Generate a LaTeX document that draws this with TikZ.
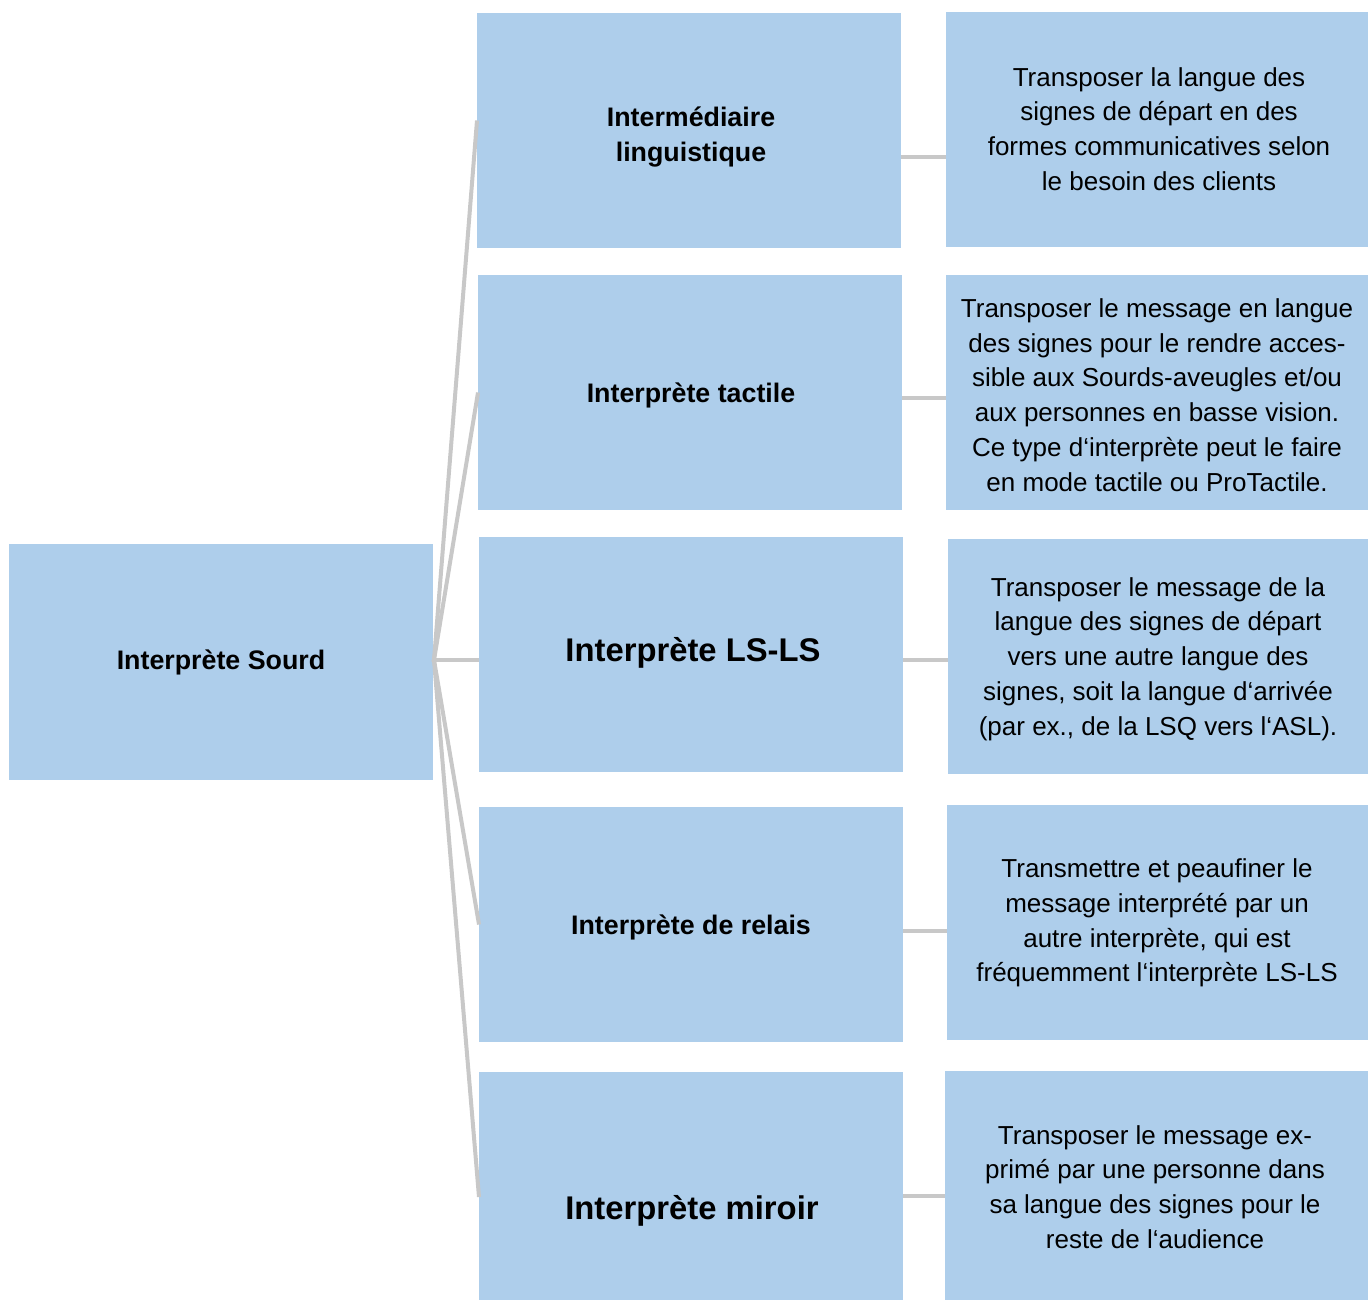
\documentclass[tikz,border=0pt]{standalone}
\usepackage{fontspec}
\setmainfont{Liberation Sans}
\definecolor{boxblue}{RGB}{174,206,235}
\definecolor{linkgray}{RGB}{200,200,200}
\tikzset{
  box/.style={fill=boxblue, draw=none, inner sep=0pt, outer sep=0pt, anchor=north west,
              minimum width=212pt, minimum height=117.5pt},
  rootbox/.style={box, minimum width=212pt, minimum height=118pt},
  title/.style={font=\fontsize{13.4pt}{17.5pt}\selectfont\bfseries, align=center, inner sep=0pt},
  bigtitle/.style={font=\fontsize{16.4pt}{20pt}\selectfont\bfseries, align=center, inner sep=0pt},
  desc/.style={font=\fontsize{13pt}{17.4pt}\selectfont, align=center, inner sep=0pt},
  link/.style={draw=linkgray, line width=2pt}
}
\begin{document}
\begin{tikzpicture}[x=0.5pt,y=-0.5pt]
\useasboundingbox (0,0) rectangle (1368,1300);
% root
\node[rootbox] (root) at (9,544) {};
% middle column
\node[box] (m1) at (477,13) {};
\node[box] (m2) at (478,275) {};
\node[box] (m3) at (479,537) {};
\node[box] (m4) at (479,807) {};
\node[box, minimum height=114pt] (m5) at (479,1072) {};
% right column
\node[box, minimum width=211pt] (r1) at (946,12) {};
\node[box, minimum width=211pt] (r2) at (946,275) {};
\node[box, minimum width=210pt] (r3) at (948,539) {};
\node[box, minimum width=210.5pt] (r4) at (947,805) {};
\node[box, minimum width=211.5pt, minimum height=114.5pt] (r5) at (945,1071) {};
% fan connectors
\coordinate (hub) at (434,660);
\draw[link] (hub) -- ([yshift=5pt]m1.west);
\draw[link] (hub) -- (m2.west);
\draw[link] (hub) -- ([yshift=-2.75pt]m3.west);
\draw[link] (hub) -- (m4.west);
\draw[link] (hub) -- ([yshift=-5.5pt]m5.west);
\draw[link] (root.east) -- (hub);
% horizontal connectors
\draw[link] ([yshift=-13.5pt]m1.east) -- ([yshift=-13.5pt]m1.east -| r1.west);
\draw[link] ([yshift=-2.5pt]m2.east) -- ([yshift=-2.5pt]m2.east -| r2.west);
\draw[link] ([yshift=-2.75pt]m3.east) -- ([yshift=-2.75pt]m3.east -| r3.west);
\draw[link] ([yshift=-3.25pt]m4.east) -- ([yshift=-3.25pt]m4.east -| r4.west);
\draw[link] ([yshift=-5pt]m5.east) -- ([yshift=-5pt]m5.east -| r5.west);
% texts
\node[title] (troot) at (221,662) {Interprète Sourd};
\node[title] (t1) at (691,137) {Intermédiaire\\linguistique};
\node[title] (t2) at (691,395) {Interprète tactile};
\node[bigtitle] (t3) at (693,653) {Interprète LS-LS};
\node[title] (t4) at (691,927) {Interprète de relais};
\node[bigtitle] (t5) at (692,1211) {Interprète miroir};
\node[desc] (d1) at (1159,129) {Transposer la langue des\\signes de départ en des\\formes communicatives selon\\le besoin des clients};
\node[desc] (d2) at (1157,395) {Transposer le message en langue\\des signes pour le rendre acces-\\sible aux Sourds-aveugles et/ou\\aux personnes en basse vision.\\Ce type d‘interprète peut le faire\\en mode tactile ou ProTactile.};
\node[desc] (d3) at (1158,659) {Transposer le message de la\\langue des signes de départ\\vers une autre langue des\\signes, soit la langue d‘arrivée\\(par ex., de la LSQ vers l‘ASL).};
\node[desc] (d4) at (1157,923) {Transmettre et peaufiner le\\message interprété par un\\autre interprète, qui est\\fréquemment l‘interprète LS-LS};
\node[desc] (d5) at (1155,1187) {Transposer le message ex-\\primé par une personne dans\\sa langue des signes pour le\\reste de l‘audience};
\end{tikzpicture}
\end{document}
